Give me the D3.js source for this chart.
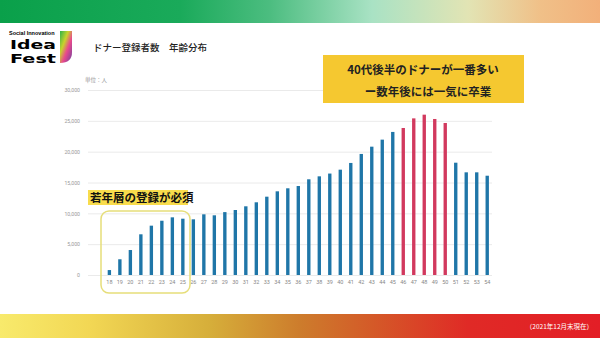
<!DOCTYPE html>
<html><head><meta charset="utf-8">
<script src="https://cdn.jsdelivr.net/npm/d3@7"></script>
<style>html,body{margin:0;padding:0;background:#fff;}svg{display:block;font-family:"Noto Sans CJK JP","Noto Sans",sans-serif;}</style>
</head><body>
<script>
const ages = d3.range(18, 55).map(String);
const donors = [800,2550,4050,6600,8000,8800,9350,9130,9030,9840,9680,10200,10540,11140,11790,12700,13570,14060,14430,15520,16000,16450,17080,18170,19630,20810,21950,23200,23840,25400,26000,25300,24650,18210,16650,16650,16100];
const highlightAges = ["46","47","48","49","50"];
const yTicks = [0,5000,10000,15000,20000,25000,30000];

const W=600,H=338;
const svg=d3.select("body").append("svg").attr("width",W).attr("height",H);
const defs=svg.append("defs");
const gTop=defs.append("linearGradient").attr("id","gtop");
[[0,"#0aa04a"],[0.3,"#1aaa5a"],[0.45,"#4cbd80"],[0.62,"#a9e2c4"],[0.78,"#e2e4b4"],[0.9,"#f0c088"],[1,"#f2b07a"]].forEach(s=>gTop.append("stop").attr("offset",s[0]).attr("stop-color",s[1]));
const gBot=defs.append("linearGradient").attr("id","gbot");
[[0,"#f8ea6c"],[0.15,"#f2d754"],[0.35,"#d6ae3a"],[0.5,"#cd7c2c"],[0.62,"#d45a28"],[0.78,"#e02a26"],[1,"#e31e26"]].forEach(s=>gBot.append("stop").attr("offset",s[0]).attr("stop-color",s[1]));
const gLogo=defs.append("linearGradient").attr("id","glogo").attr("x1",0).attr("y1",0).attr("x2",1).attr("y2",1);
[[0,"#2db34a"],[0.35,"#c8d32c"],[0.6,"#e94a8c"],[1,"#6a3fa0"]].forEach(s=>gLogo.append("stop").attr("offset",s[0]).attr("stop-color",s[1]));

svg.append("rect").attr("x",0).attr("y",0).attr("width",W).attr("height",23).attr("fill","url(#gtop)");
svg.append("rect").attr("x",0).attr("y",314).attr("width",W).attr("height",24).attr("fill","url(#gbot)");
svg.append("text").attr("x",593).attr("y",329).attr("text-anchor","end").attr("fill","#fff").attr("font-size",6.5).text("（2021年12月末現在）");

// logo
svg.append("text").attr("x",9).attr("y",35).attr("font-size",5.5).attr("font-weight",700).attr("font-family","Liberation Sans").text("Social Innovation");
svg.append("text").attr("x",10).attr("y",49).attr("font-size",13).attr("font-weight",900).attr("font-family","DejaVu Sans")
  .attr("textLength",46).attr("lengthAdjust","spacingAndGlyphs").text("Idea");
svg.append("text").attr("x",10).attr("y",63).attr("font-size",13).attr("font-weight",900).attr("font-family","DejaVu Sans")
  .attr("textLength",46).attr("lengthAdjust","spacingAndGlyphs").text("Fest");
svg.append("path").attr("d","M60,31 L72,31 L72,52 Q72,63 60,63 Z").attr("fill","url(#glogo)");

svg.append("text").attr("x",93).attr("y",51).attr("font-size",9.5).attr("font-weight",500).attr("fill","#222").text("ドナー登録者数　年齢分布");
svg.append("text").attr("x",85).attr("y",82).attr("font-size",5.5).attr("fill","#999").text("単位：人");

const x=d3.scaleBand().domain(ages).range([105.6,491]).paddingInner(0.68).paddingOuter(0.2);
const y=d3.scaleLinear().domain([0,30000]).range([275,90]);

const gy=svg.append("g").attr("transform","translate(88,0)")
  .call(d3.axisLeft(y).tickValues(yTicks).tickSize(-404).tickFormat(d3.format(",")).tickPadding(8));
gy.select(".domain").remove();
gy.selectAll(".tick line").attr("stroke","#e4e4e4").attr("stroke-width",0.8);
gy.selectAll(".tick text").attr("fill","#999").attr("font-size",5.2).attr("font-family","Roboto");

const gx=svg.append("g").attr("transform","translate(0,275)").call(d3.axisBottom(x).tickSize(0).tickPadding(5));
gx.select(".domain").remove();
gx.selectAll(".tick text").attr("fill","#888").attr("font-size",5.5).attr("font-family","Roboto");

svg.append("g").selectAll("rect").data(ages).join("rect")
  .attr("x",d=>x(d)).attr("width",x.bandwidth())
  .attr("y",(d,i)=>y(donors[i])).attr("height",(d,i)=>y(0)-y(donors[i]))
  .attr("fill",d=>highlightAges.includes(d)?"#d2395e":"#1f76a8");

// annotations
svg.append("rect").attr("x",101).attr("y",211).attr("width",89).attr("height",82).attr("rx",8)
  .attr("fill","none").attr("stroke","#e6de7a").attr("stroke-width",1.5);
svg.append("rect").attr("x",88).attr("y",190).attr("width",100).attr("height",15).attr("fill","#f8dc4c");
svg.append("text").attr("x",90).attr("y",202).attr("font-size",11.5).attr("font-weight",700).attr("fill","#111").text("若年層の登録が必須");

svg.append("rect").attr("x",323).attr("y",55).attr("width",201).attr("height",48).attr("fill","#f5c830");
svg.append("text").attr("x",423).attr("y",74).attr("text-anchor","middle").attr("font-size",11.5).attr("font-weight",700).attr("fill","#222").text("40代後半のドナーが一番多い");
svg.append("text").attr("x",428).attr("y",96).attr("text-anchor","middle").attr("font-size",11.5).attr("font-weight",700).attr("fill","#222").text("ー数年後には一気に卒業");
</script>
</body></html>
